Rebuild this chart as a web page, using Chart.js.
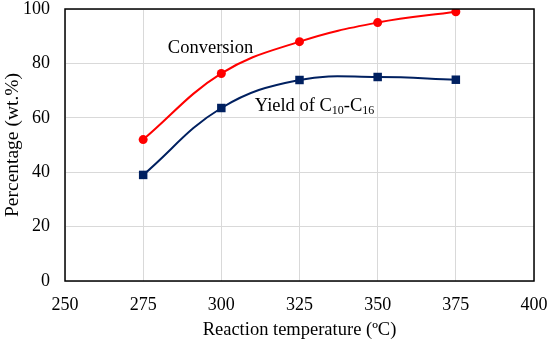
<!DOCTYPE html>
<html>
<head>
<meta charset="utf-8">
<script src="https://cdn.jsdelivr.net/npm/chart.js@4"></script>
<style>
  html, body { margin: 0; padding: 0; background: #fff; }
  #wrap { width: 550px; height: 344px; }
</style>
</head>
<body>
<div id="wrap"><canvas id="chart"></canvas></div>
<script>
const temperatures = [275, 300, 325, 350, 375];
const conversion = [52, 76.3, 88, 95, 99];
const yieldC10C16 = [39, 63.6, 73.9, 75, 74];
const xTicks = [250, 275, 300, 325, 350, 375, 400];
const yTicks = [0, 20, 40, 60, 80, 100];

const serif = "'Liberation Serif', 'Times New Roman', serif";

function toPoints(values) {
    return temperatures.map(function (t, i) { return { x: t, y: values[i] }; });
}

// text labels next to the curves, Yield label has subscripts
const curveLabels = {
    id: 'curveLabels',
    afterDatasetsDraw(chart) {
        const ctx = chart.ctx;
        const xs = chart.scales.x, ys = chart.scales.y;
        ctx.save();
        ctx.fillStyle = '#000';
        ctx.textBaseline = 'alphabetic';
        ctx.font = '18.5px ' + serif;
        ctx.fillText('Conversion', xs.getPixelForValue(282.9), ys.getPixelForValue(83.8));

        let x = xs.getPixelForValue(310.7);
        const y = ys.getPixelForValue(62.6);
        const parts = [['Yield of C', false], ['10', true], ['-C', false], ['16', true]];
        parts.forEach(function (p) {
            ctx.font = (p[1] ? '12px ' : '18.5px ') + serif;
            ctx.fillText(p[0], x, p[1] ? y + 3 : y);
            x += ctx.measureText(p[0]).width;
        });
        ctx.restore();
    }
};

// black frame around plot area
const frame = {
    id: 'frame',
    afterDraw(chart) {
        const a = chart.chartArea, ctx = chart.ctx;
        ctx.save();
        ctx.strokeStyle = '#000';
        ctx.lineWidth = 1.5;
        ctx.strokeRect(a.left, a.top, a.right - a.left, a.bottom - a.top);
        ctx.restore();
    }
};

new Chart(document.getElementById('chart'), {
    type: 'line',
    data: {
        datasets: [{
            label: 'Conversion',
            data: toPoints(conversion),
            borderColor: '#ff0000',
            backgroundColor: '#ff0000',
            borderWidth: 2,
            tension: 0.4,
            pointStyle: 'circle',
            pointRadius: 4.5,
            pointBorderWidth: 0
        }, {
            label: 'Yield of C10-C16',
            data: toPoints(yieldC10C16),
            borderColor: '#002060',
            backgroundColor: '#002060',
            borderWidth: 2,
            tension: 0.4,
            pointStyle: 'rect',
            pointRadius: 6,
            pointBorderWidth: 0
        }]
    },
    options: {
        responsive: true,
        maintainAspectRatio: false,
        animation: false,
        layout: { padding: { top: 9, right: 16, left: 1, bottom: 3 } },
        plugins: {
            legend: { display: false },
            tooltip: { enabled: false }
        },
        scales: {
            x: {
                type: 'linear',
                min: 250,
                max: 400,
                afterBuildTicks: function (axis) { axis.ticks = xTicks.map(function (v) { return { value: v }; }); },
                afterFit: function (axis) {
                    axis.height = 60;
                    axis.paddingLeft = 0;
                    axis.paddingRight = 0;
                },
                grid: { color: '#d9d9d9', lineWidth: 1, drawTicks: false },
                border: { display: false },
                ticks: { color: '#000', font: { family: serif, size: 18 }, padding: 13, maxRotation: 0 },
                title: {
                    display: true,
                    text: 'Reaction temperature (ºC)',
                    color: '#000',
                    font: { family: serif, size: 18.5 },
                    padding: { top: 0, bottom: 0 }
                }
            },
            y: {
                min: 0,
                max: 100,
                afterBuildTicks: function (axis) { axis.ticks = yTicks.map(function (v) { return { value: v }; }); },
                afterFit: function (axis) {
                    axis.width = 64;
                    axis.paddingTop = 0;
                    axis.paddingBottom = 0;
                },
                grid: { color: '#d9d9d9', lineWidth: 1, drawTicks: false },
                border: { display: false },
                ticks: { color: '#000', font: { family: serif, size: 18 }, padding: 15 },
                title: {
                    display: true,
                    text: 'Percentage (wt.%)',
                    color: '#000',
                    font: { family: serif, size: 19.5 },
                    padding: { top: 0, bottom: 0 }
                }
            }
        }
    },
    plugins: [curveLabels, frame]
});
</script>
</body>
</html>
